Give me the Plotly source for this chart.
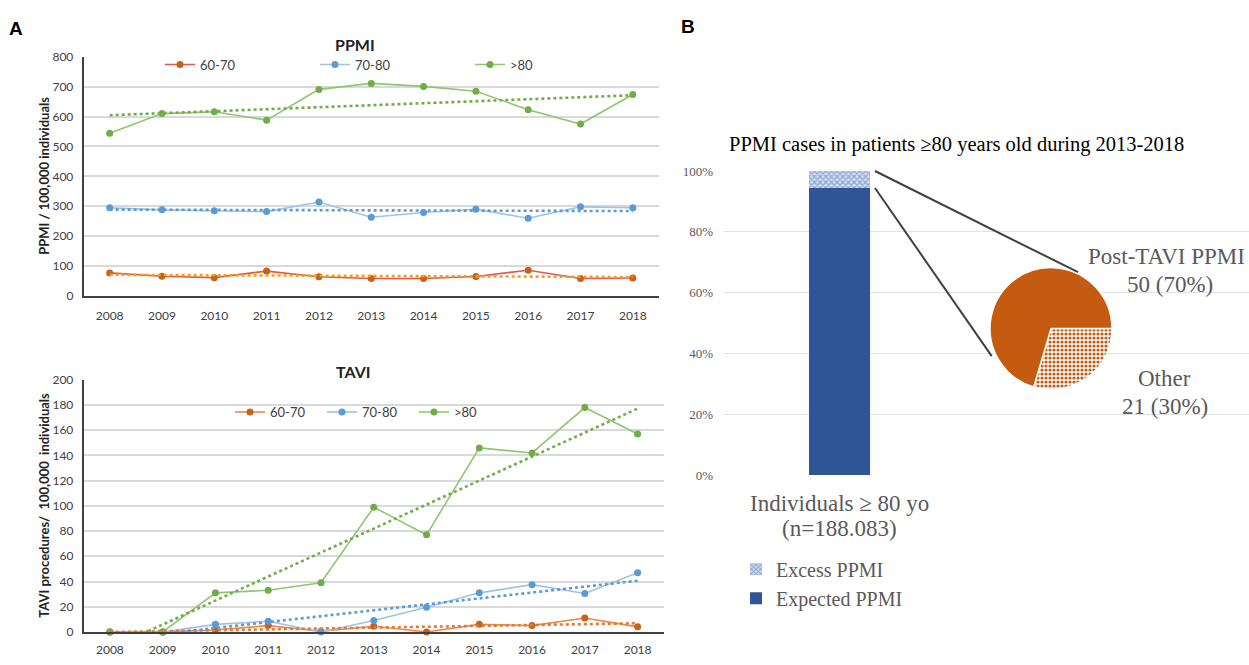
import numpy as np
import plotly.graph_objects as go

W, H = 1249, 665

years = [str(y) for y in range(2008, 2019)]
groups = ["60-70", "70-80", ">80"]

ppmi_60_70 = [77, 66, 61, 83, 64, 58, 58, 65, 86, 58, 60]
ppmi_70_80 = [295, 288, 285, 282, 314, 263, 279, 290, 260, 298, 295]
ppmi_80 = [544, 610, 616, 588, 691, 711, 701, 685, 623, 575, 674]

tavi_60_70 = [0, 0, 1.5, 5, 0.5, 4.5, 0, 6, 5, 11, 4]
tavi_70_80 = [0, 0, 6, 8.5, 0, 9, 19.5, 31, 37.5, 30.5, 47]
tavi_80 = [0, 0, 31, 33, 39, 99, 77, 146, 142, 178, 157]

bar_category = ["Individuals ≥ 80 yo"]
expected_share = [0.944]
excess_share = [0.056]

pie_labels = ["Other", "Post-TAVI PPMI"]
pie_values = [21, 50]


def px(x):
    return x / W


def py(y):
    return 1 - y / H


# colours
line_cols_ppmi = ["#E4584C", "#9DC3E6", "#8CC870"]
line_cols_tavi = ["#E8894A", "#9DC3E6", "#8CC870"]
marker_cols = ["#C9601C", "#5B9BD5", "#70AD47"]
trend_cols_ppmi = ["#F0A020", "#5B9BD5", "#70AD47"]
trend_cols_tavi = ["#E07B39", "#5B9BD5", "#70AD47"]

fontA = "Lato, Liberation Sans, sans-serif"
fontB = "Liberation Serif, Times New Roman, serif"
gray = "#595959"

fig = go.Figure()

idx = np.arange(len(years))


def add_panel(series, xa, ya, legend, line_cols, trend_cols):
    for name, vals, lc, mc in zip(groups, series, line_cols, marker_cols):
        fig.add_trace(go.Scatter(
            x=years, y=vals, name=name, mode="lines+markers",
            line=dict(color=lc, width=1.6),
            marker=dict(color=mc, size=7),
            xaxis=xa, yaxis=ya, legend=legend, cliponaxis=False,
            hoverinfo="skip"))
    for name, vals, tc in zip(groups, series, trend_cols):
        slope, icpt = np.polyfit(idx, np.array(vals, dtype=float), 1)
        fit = slope * idx + icpt
        fig.add_trace(go.Scatter(
            x=years, y=fit, mode="lines", showlegend=False,
            line=dict(color=tc, width=2.6, dash="dot"),
            xaxis=xa, yaxis=ya, hoverinfo="skip"))


add_panel([ppmi_60_70, ppmi_70_80, ppmi_80], "x", "y", "legend",
          line_cols_ppmi, trend_cols_ppmi)
add_panel([tavi_60_70, tavi_70_80, tavi_80], "x2", "y2", "legend2",
          line_cols_tavi, trend_cols_tavi)

# Panel B bar
fig.add_trace(go.Bar(
    x=bar_category, y=expected_share, name="Expected PPMI",
    marker=dict(color="#2F5597", line=dict(width=0)),
    width=0.264, xaxis="x3", yaxis="y3", legend="legend3", hoverinfo="skip"))
fig.add_trace(go.Bar(
    x=bar_category, y=excess_share, name="Excess PPMI",
    marker=dict(color="#C9D5EC", line=dict(width=0),
                pattern=dict(shape="x", fgcolor="#3F66B4", bgcolor="#D6DFF0",
                             size=4, solidity=0.5)),
    width=0.264, xaxis="x3", yaxis="y3", legend="legend3", hoverinfo="skip"))

# Pie
fig.add_trace(go.Pie(
    labels=pie_labels, values=pie_values, sort=False, direction="clockwise",
    rotation=90, textinfo="none", showlegend=False, hoverinfo="skip",
    marker=dict(colors=["#F8DCC8", "#C55A11"],
                line=dict(color="white", width=1.5),
                pattern=dict(shape=[".", ""], fgcolor="#C55A11",
                             size=4, solidity=0.5)),
    domain=dict(x=[px(988), px(1114)], y=[py(391), py(266)])))

axis_common = dict(showline=True, linecolor="#404040", linewidth=1.5,
                   zeroline=False, ticks="",
                   tickfont=dict(family=fontA, size=12, color="#404040"))

y3dom = [py(478.6), py(167)]

fig.update_layout(
    width=W, height=H, margin=dict(l=0, r=0, t=0, b=0),
    paper_bgcolor="white", plot_bgcolor="white",
    barmode="stack", showlegend=True,
    xaxis=dict(domain=[px(83.5), px(659)], type="category", range=[-0.5, 10.5],
               showgrid=False, anchor="y", ticklabelstandoff=8, **axis_common),
    yaxis=dict(domain=[py(295), py(50)], range=[0, 800], dtick=100,
               showgrid=True, gridcolor="#D9D9D9", gridwidth=1.5, anchor="x",
               ticklabelstandoff=6, **axis_common),
    xaxis2=dict(domain=[px(83.5), px(664)], type="category", range=[-0.5, 10.5],
                showgrid=False, anchor="y2", ticklabelstandoff=6, **axis_common),
    yaxis2=dict(domain=[py(639.3), py(381)], range=[0, 200], dtick=20,
                showgrid=True, gridcolor="#D9D9D9", gridwidth=1.5, anchor="x2",
                ticklabelstandoff=6, **axis_common),
    xaxis3=dict(domain=[px(724), 1], type="category", range=[-0.5, 1.77],
                showgrid=False, showline=False, zeroline=False,
                showticklabels=False, anchor="y3", fixedrange=True),
    yaxis3=dict(domain=y3dom, range=[0, 1], dtick=0.2, tickformat=".0%",
                showgrid=True, gridcolor="#E3E3E3", gridwidth=1, showline=False,
                zeroline=False, ticks="", ticklabelstandoff=10, anchor="x3",
                tickfont=dict(family=fontB, size=13, color=gray)),
    legend=dict(orientation="h", x=px(160), y=py(58), xanchor="left",
                yanchor="middle", entrywidth=110, entrywidthmode="pixels",
                bgcolor="rgba(0,0,0,0)",
                font=dict(family=fontA, size=13, color="#404040")),
    legend2=dict(orientation="h", x=px(230), y=py(414), xanchor="left",
                 yanchor="middle", entrywidth=47, entrywidthmode="pixels",
                 bgcolor="rgba(0,0,0,0)",
                 font=dict(family=fontA, size=13, color="#404040")),
    legend3=dict(orientation="v", x=px(736), y=py(555), xanchor="left",
                 yanchor="top", traceorder="reversed", itemwidth=30,
                 bgcolor="rgba(0,0,0,0)", tracegroupgap=0,
                 font=dict(family=fontB, size=20, color=gray)),
)


def ann(text, x, y, size, color="black", family=fontA, bold=False, angle=0,
        xanchor="center"):
    fig.add_annotation(
        text=f"<b>{text}</b>" if bold else text, x=px(x), y=py(y),
        xref="paper", yref="paper", showarrow=False, textangle=angle,
        xanchor=xanchor, yanchor="middle",
        font=dict(family=family, size=size, color=color))


ann("A", 15.5, 21.5, 19, bold=True, family="Liberation Sans, sans-serif")
ann("B", 688, 19, 19, bold=True, family="Liberation Sans, sans-serif")
ann("PPMI", 355, 37, 16, bold=True, color="#222222")
ann("TAVI", 353, 372, 16, bold=True, color="#222222")
ann("PPMI / 100,000 individuals", 44, 172, 13, bold=True, angle=-90,
    color="#222222")
ann("TAVI procedures/  100,000  individuals", 44, 510, 13, bold=True,
    angle=-90, color="#222222")
ann("PPMI cases in patients ≥80 years old during 2013-2018", 956, 140, 20.5,
    family=fontB)
ann("Individuals ≥ 80 yo", 839.5, 508, 23, color=gray, family=fontB)
ann("(n=188.083)", 839.5, 533, 23, color=gray, family=fontB)
ann("Post-TAVI PPMI", 1166, 255, 23, color=gray, family=fontB)
ann("50 (70%)", 1170, 283, 23, color=gray, family=fontB)
ann("Other", 1164, 380, 23, color=gray, family=fontB)
ann("21 (30%)", 1164.5, 408, 23, color=gray, family=fontB)


def y3_to_paper(v):
    return y3dom[0] + v * (y3dom[1] - y3dom[0])


bar_right = px(875)
top_share = expected_share[0] + excess_share[0]
fig.add_shape(type="line", xref="paper", yref="paper",
              x0=bar_right, y0=y3_to_paper(top_share), x1=px(1078), y1=py(270.7),
              line=dict(color="#404040", width=2))
fig.add_shape(type="line", xref="paper", yref="paper",
              x0=bar_right, y0=y3_to_paper(expected_share[0]), x1=px(991.7),
              y1=py(356.7), line=dict(color="#404040", width=2))

post = ("document.body.style.margin='0px';"
        "document.body.style.padding='0px';"
        "document.body.style.overflow='hidden';")

fig.write_html("out.html", config={"displayModeBar": False}, post_script=post)
